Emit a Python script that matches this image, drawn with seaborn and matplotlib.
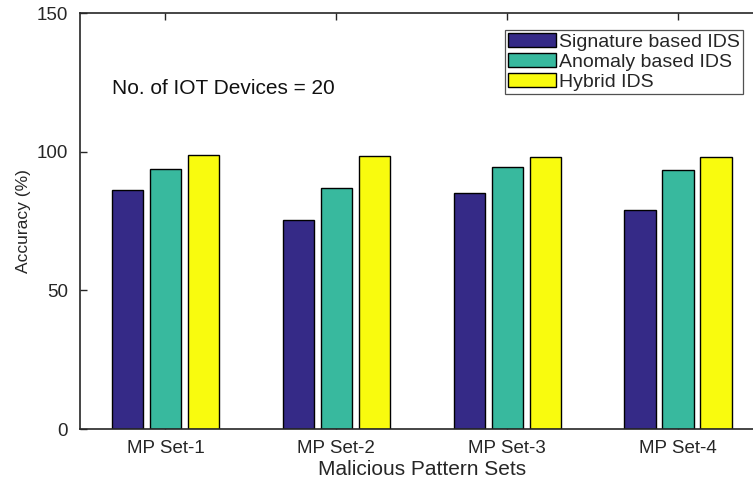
import pandas as pd
import matplotlib.pyplot as plt
import seaborn as sns

# --- Data ---
sets = ['MP Set-1', 'MP Set-2', 'MP Set-3', 'MP Set-4']
methods = ['Signature based IDS', 'Anomaly based IDS', 'Hybrid IDS']
signature = [86.0, 75.3, 85.1, 79.1]
anomaly = [93.8, 86.9, 94.4, 93.3]
hybrid = [98.9, 98.6, 98.1, 98.1]
colors = ['#352a87', '#38b99e', '#f9fb0e']

df = pd.DataFrame({'Set': sets * 3,
                   'Method': [m for m in methods for _ in sets],
                   'Accuracy': signature + anomaly + hybrid})

sns.set_style('white')
plt.rcParams['font.family'] = ['Liberation Sans', 'DejaVu Sans']

fig = plt.figure(figsize=(7.53, 4.83), dpi=100)
# right edge of the axes runs past the figure, like the cropped original
ax = fig.add_axes([80 / 753, 1 - 429 / 483, (763.5 - 80) / 753, (429 - 13) / 483])

sns.barplot(data=df, x='Set', y='Accuracy', hue='Method', hue_order=methods,
            palette=colors, width=0.667, gap=0.175, edgecolor='black',
            linewidth=1, saturation=1, ax=ax)

ax.set_xlim(-0.5, 3.5)
ax.set_ylim(0, 150)
ax.set_yticks([0, 50, 100, 150])
ax.tick_params(direction='in', length=5, width=1, labelsize=13.5,
               top=True, bottom=True, left=True, right=False,
               colors='#262626', labelcolor='#262626')
ax.tick_params(axis='x', pad=8)
ax.tick_params(axis='y', pad=8.5)
for s in ax.spines.values():
    s.set_color('#262626')
    s.set_linewidth(1.2)
ax.set_xlabel('Malicious Pattern Sets', fontsize=15, color='#262626', labelpad=2)
ax.set_ylabel('Accuracy (%)', fontsize=12.5, color='#262626', labelpad=4)

ax.text(-0.313, 122.6, 'No. of IOT Devices = 20', fontsize=15, color='#111111',
        va='center')

leg = ax.legend(loc='upper right', bbox_to_anchor=(0.970, 0.959), fontsize=14,
                frameon=True, fancybox=False, handlelength=2.5, handleheight=0.72,
                handletextpad=0.15, borderpad=0.15, labelspacing=0.12,
                borderaxespad=0)
leg.get_frame().set_edgecolor('#262626')
leg.get_frame().set_linewidth(0.9)

plt.savefig('out.png', dpi=100)
